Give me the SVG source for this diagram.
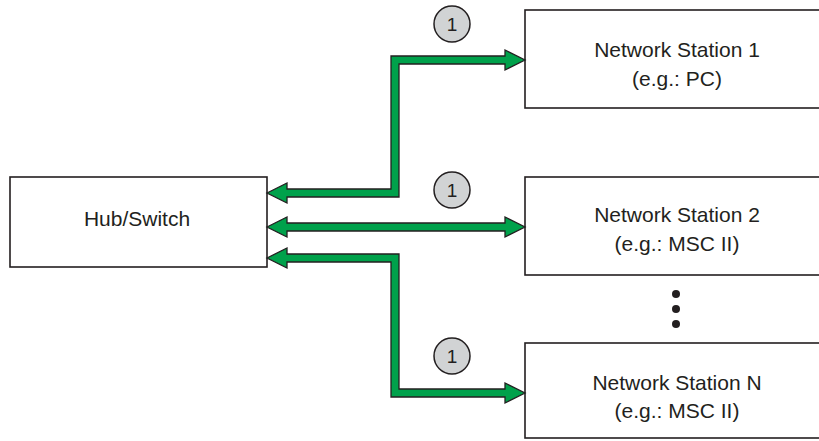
<svg xmlns="http://www.w3.org/2000/svg" width="819" height="441" viewBox="0 0 819 441">
<style>
.box{fill:#fff;stroke:#231f20;stroke-width:1.6}
.lbl{font-family:"Liberation Sans",Arial,sans-serif;font-size:21px;fill:#231f20;text-anchor:middle}
.arr{fill:#00a14b;stroke:#231f20;stroke-width:1.3;stroke-linejoin:miter}
.num{fill:#d1d3d4;stroke:#231f20;stroke-width:1.5}
.numt{font-family:"Liberation Sans",Arial,sans-serif;font-size:19px;fill:#231f20;text-anchor:middle}
</style>
<rect width="819" height="441" fill="#fff"/>
<g id="hub">
<rect class="box" x="10" y="177" width="257" height="90"/>
<text class="lbl" x="137" y="226">Hub/Switch</text>
</g>
<g id="station1">
<rect class="box" x="525" y="10" width="306" height="98"/>
<text class="lbl" x="677" y="57">Network Station 1</text>
<text class="lbl" x="677" y="86">(e.g.: PC)</text>
</g>
<g id="station2">
<rect class="box" x="525" y="177" width="306" height="98"/>
<text class="lbl" x="677" y="222">Network Station 2</text>
<text class="lbl" x="677" y="251">(e.g.: MSC II)</text>
</g>
<g id="stationN">
<rect class="box" x="525" y="343" width="306" height="95"/>
<text class="lbl" x="677" y="390">Network Station N</text>
<text class="lbl" x="677" y="418">(e.g.: MSC II)</text>
</g>
<g id="dots" fill="#231f20">
<circle cx="676" cy="294" r="4"/>
<circle cx="676" cy="309" r="4"/>
<circle cx="676" cy="324" r="4"/>
</g>
<g id="connectors">
<polygon class="arr" points="267,193 287,183 287,189 391,189 391,56 505,56 505,50 525,60 505,70 505,64 399,64 399,197 287,197 287,203"/>
<polygon class="arr" points="267,227 287,217 287,223 505,223 505,217 525,227 505,237 505,231 287,231 287,237"/>
<polygon class="arr" points="267,258 287,248 287,254 399,254 399,389 505,389 505,383 525,393 505,403 505,397 391,397 391,262 287,262 287,268"/>
</g>
<g id="badge1">
<circle class="num" cx="452" cy="24" r="18"/>
<text class="numt" x="452" y="31">1</text>
</g>
<g id="badge2">
<circle class="num" cx="452" cy="190" r="18"/>
<text class="numt" x="452" y="197">1</text>
</g>
<g id="badge3">
<circle class="num" cx="452" cy="356" r="18"/>
<text class="numt" x="452" y="363">1</text>
</g>
</svg>
